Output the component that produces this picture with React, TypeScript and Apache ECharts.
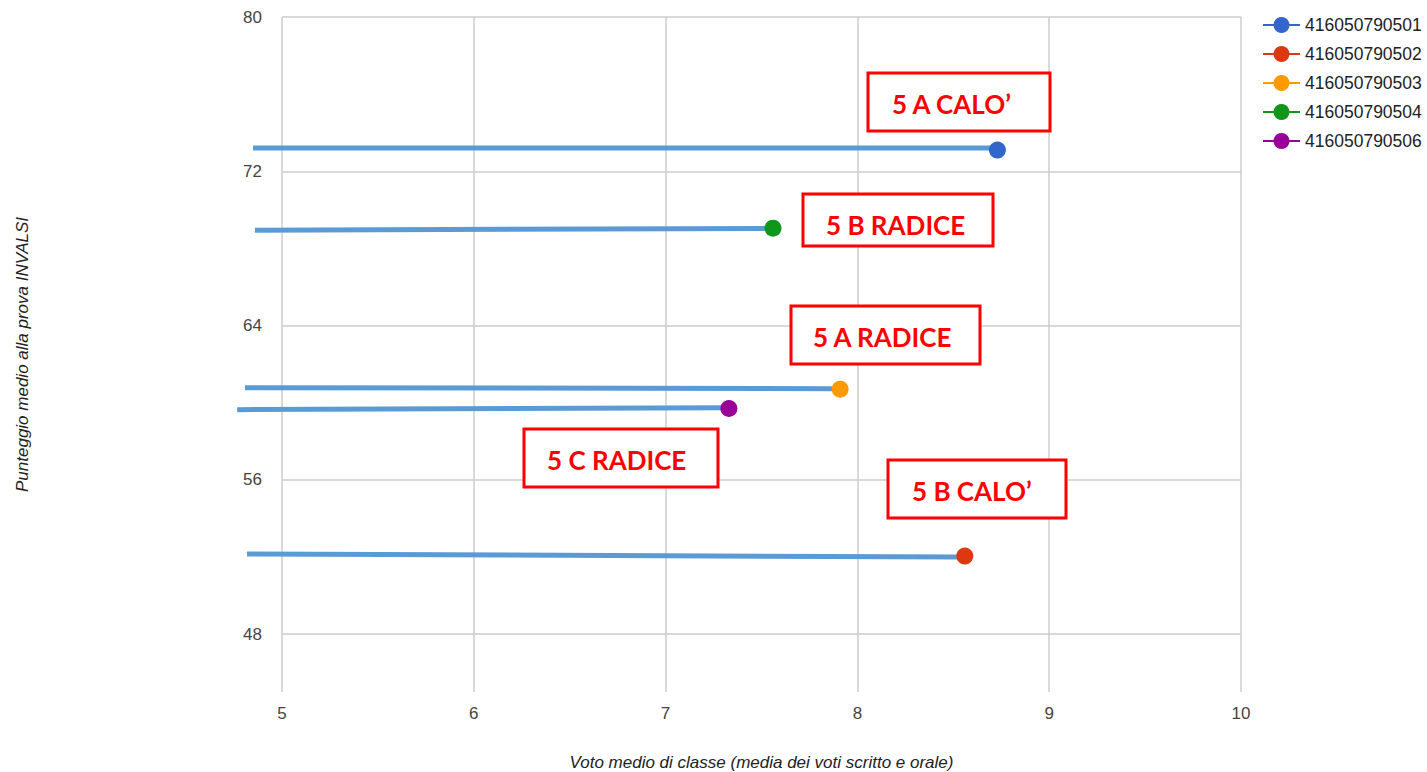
import React, { useEffect, useRef } from "react";
import * as echarts from "echarts";

// ---- data ----
const seriesNames = ["416050790501", "416050790502", "416050790503", "416050790504", "416050790506"];
const seriesColors = ["#3366cc", "#dc3912", "#ff9900", "#109618", "#990099"];
const pointX = [8.73, 8.56, 7.91, 7.56, 7.33];
const pointY = [73.1, 52.05, 60.7, 69.05, 59.7];

// hand-drawn connector lines (start / end in data units)
const lineStartX = [4.849, 4.818, 4.807, 4.859, 4.766];
const lineStartY = [73.21, 52.16, 60.78, 68.94, 59.64];
const lineEndX = [8.713, 8.531, 7.896, 7.542, 7.307];
const lineEndY = [73.21, 52.0, 60.73, 69.04, 59.74];

const yTicks = [48, 56, 64, 72, 80];

const annotationTexts = ["5 A CALO\u2019", "5 B RADICE", "5 A RADICE", "5 C RADICE", "5 B CALO\u2019"];

export default function App() {
  const ref = useRef<HTMLDivElement>(null);

  useEffect(() => {
    if (!ref.current) return;
    const chart = echarts.init(ref.current, null, { renderer: "svg" });

    const labelFont = "'Liberation Sans', Arial, sans-serif";

    const connectorSeries = {
      name: "connectors",
      type: "custom",
      silent: true,
      z: 2,
      clip: false,
      data: lineStartX.map((x0, i) => [x0, lineStartY[i], lineEndX[i], lineEndY[i]]),
      encode: { x: [0, 2], y: [1, 3] },
      renderItem: (params: any, api: any) => {
        const p0 = api.coord([api.value(0), api.value(1)]);
        const p1 = api.coord([api.value(2), api.value(3)]);
        return {
          type: "line",
          shape: { x1: p0[0], y1: p0[1], x2: p1[0], y2: p1[1] },
          style: { stroke: "#5b9bd5", lineWidth: 5, lineCap: "butt" },
        };
      },
    };

    const pointSeries = seriesNames.map((n, i) => ({
      name: n,
      type: "line",
      data: [[pointX[i], pointY[i]]],
      symbol: "circle",
      symbolSize: 17,
      showSymbol: true,
      z: 3,
      itemStyle: { color: seriesColors[i] },
      lineStyle: { color: seriesColors[i], width: 2 },
    }));

    const gridSeries = {
      name: "grid",
      type: "line",
      data: [],
      silent: true,
      z: 1,
      markLine: {
        silent: true,
        symbol: "none",
        label: { show: false },
        lineStyle: { color: "#cccccc", width: 1.5, type: "solid" },
        emphasis: { disabled: true },
        data: yTicks.map((v) => ({ yAxis: v })),
      },
    };

    const boxes = [
      { x: 868, y: 73, w: 182, h: 58, tx: 892, ty: 104 },
      { x: 803, y: 194, w: 190, h: 52, tx: 826, ty: 225 },
      { x: 791, y: 306, w: 189, h: 58, tx: 813, ty: 337 },
      { x: 524, y: 429, w: 194, h: 58, tx: 547, ty: 460 },
      { x: 888, y: 460, w: 178, h: 58, tx: 912, ty: 491 },
    ];

    const graphic: any[] = [];
    boxes.forEach((b, i) => {
      graphic.push({
        type: "rect",
        shape: { x: b.x, y: b.y, width: b.w, height: b.h },
        style: { fill: "#ffffff", stroke: "#ff0000", lineWidth: 3 },
        z: 10,
      });
      graphic.push({
        type: "text",
        x: b.tx,
        y: b.ty,
        style: {
          text: annotationTexts[i],
          fill: "#ff0000",
          font: "bold 26px Lato, 'Open Sans', sans-serif",
          verticalAlign: "middle",
        },
        z: 11,
      });
    });

    chart.setOption({
      animation: false,
      backgroundColor: "#ffffff",
      grid: {
        left: 282,
        top: 17,
        width: 959,
        height: 675,
        containLabel: false,
        outerBoundsMode: "none",
      },
      legend: {
        data: seriesNames,
        orient: "vertical",
        left: 1257,
        top: 11,
        itemWidth: 37,
        itemHeight: 20,
        itemGap: 11,
        textStyle: { fontFamily: labelFont, fontSize: 17.5, color: "#222222" },
      },
      xAxis: {
        type: "value",
        min: 5,
        max: 10,
        interval: 1,
        name: "Voto medio di classe (media dei voti scritto e orale)",
        nameLocation: "middle",
        nameGap: 62,
        nameTextStyle: { fontFamily: labelFont, fontSize: 17, fontStyle: "italic", color: "#222222" },
        axisLine: { show: false },
        axisTick: { show: false },
        axisLabel: { fontFamily: labelFont, fontSize: 17, color: "#444444", margin: 13 },
        splitLine: { show: true, lineStyle: { color: "#cccccc", width: 1.5 } },
      },
      yAxis: {
        type: "value",
        min: 45,
        max: 80,
        name: "Punteggio medio alla prova INVALSI",
        nameLocation: "middle",
        nameGap: 251,
        nameRotate: 90,
        nameTextStyle: { fontFamily: labelFont, fontSize: 17, fontStyle: "italic", color: "#222222" },
        axisLine: { show: false },
        axisTick: { show: false, customValues: yTicks },
        axisLabel: { fontFamily: labelFont, fontSize: 17, color: "#444444", margin: 20, customValues: yTicks },
        splitLine: { show: false },
      },
      series: [gridSeries, connectorSeries, ...pointSeries],
      graphic,
    });

    return () => chart.dispose();
  }, []);

  return (
    <div
      ref={ref}
      style={{ position: "fixed", left: 0, top: 0, width: 1427, height: 772, background: "#fff" }}
    />
  );
}
